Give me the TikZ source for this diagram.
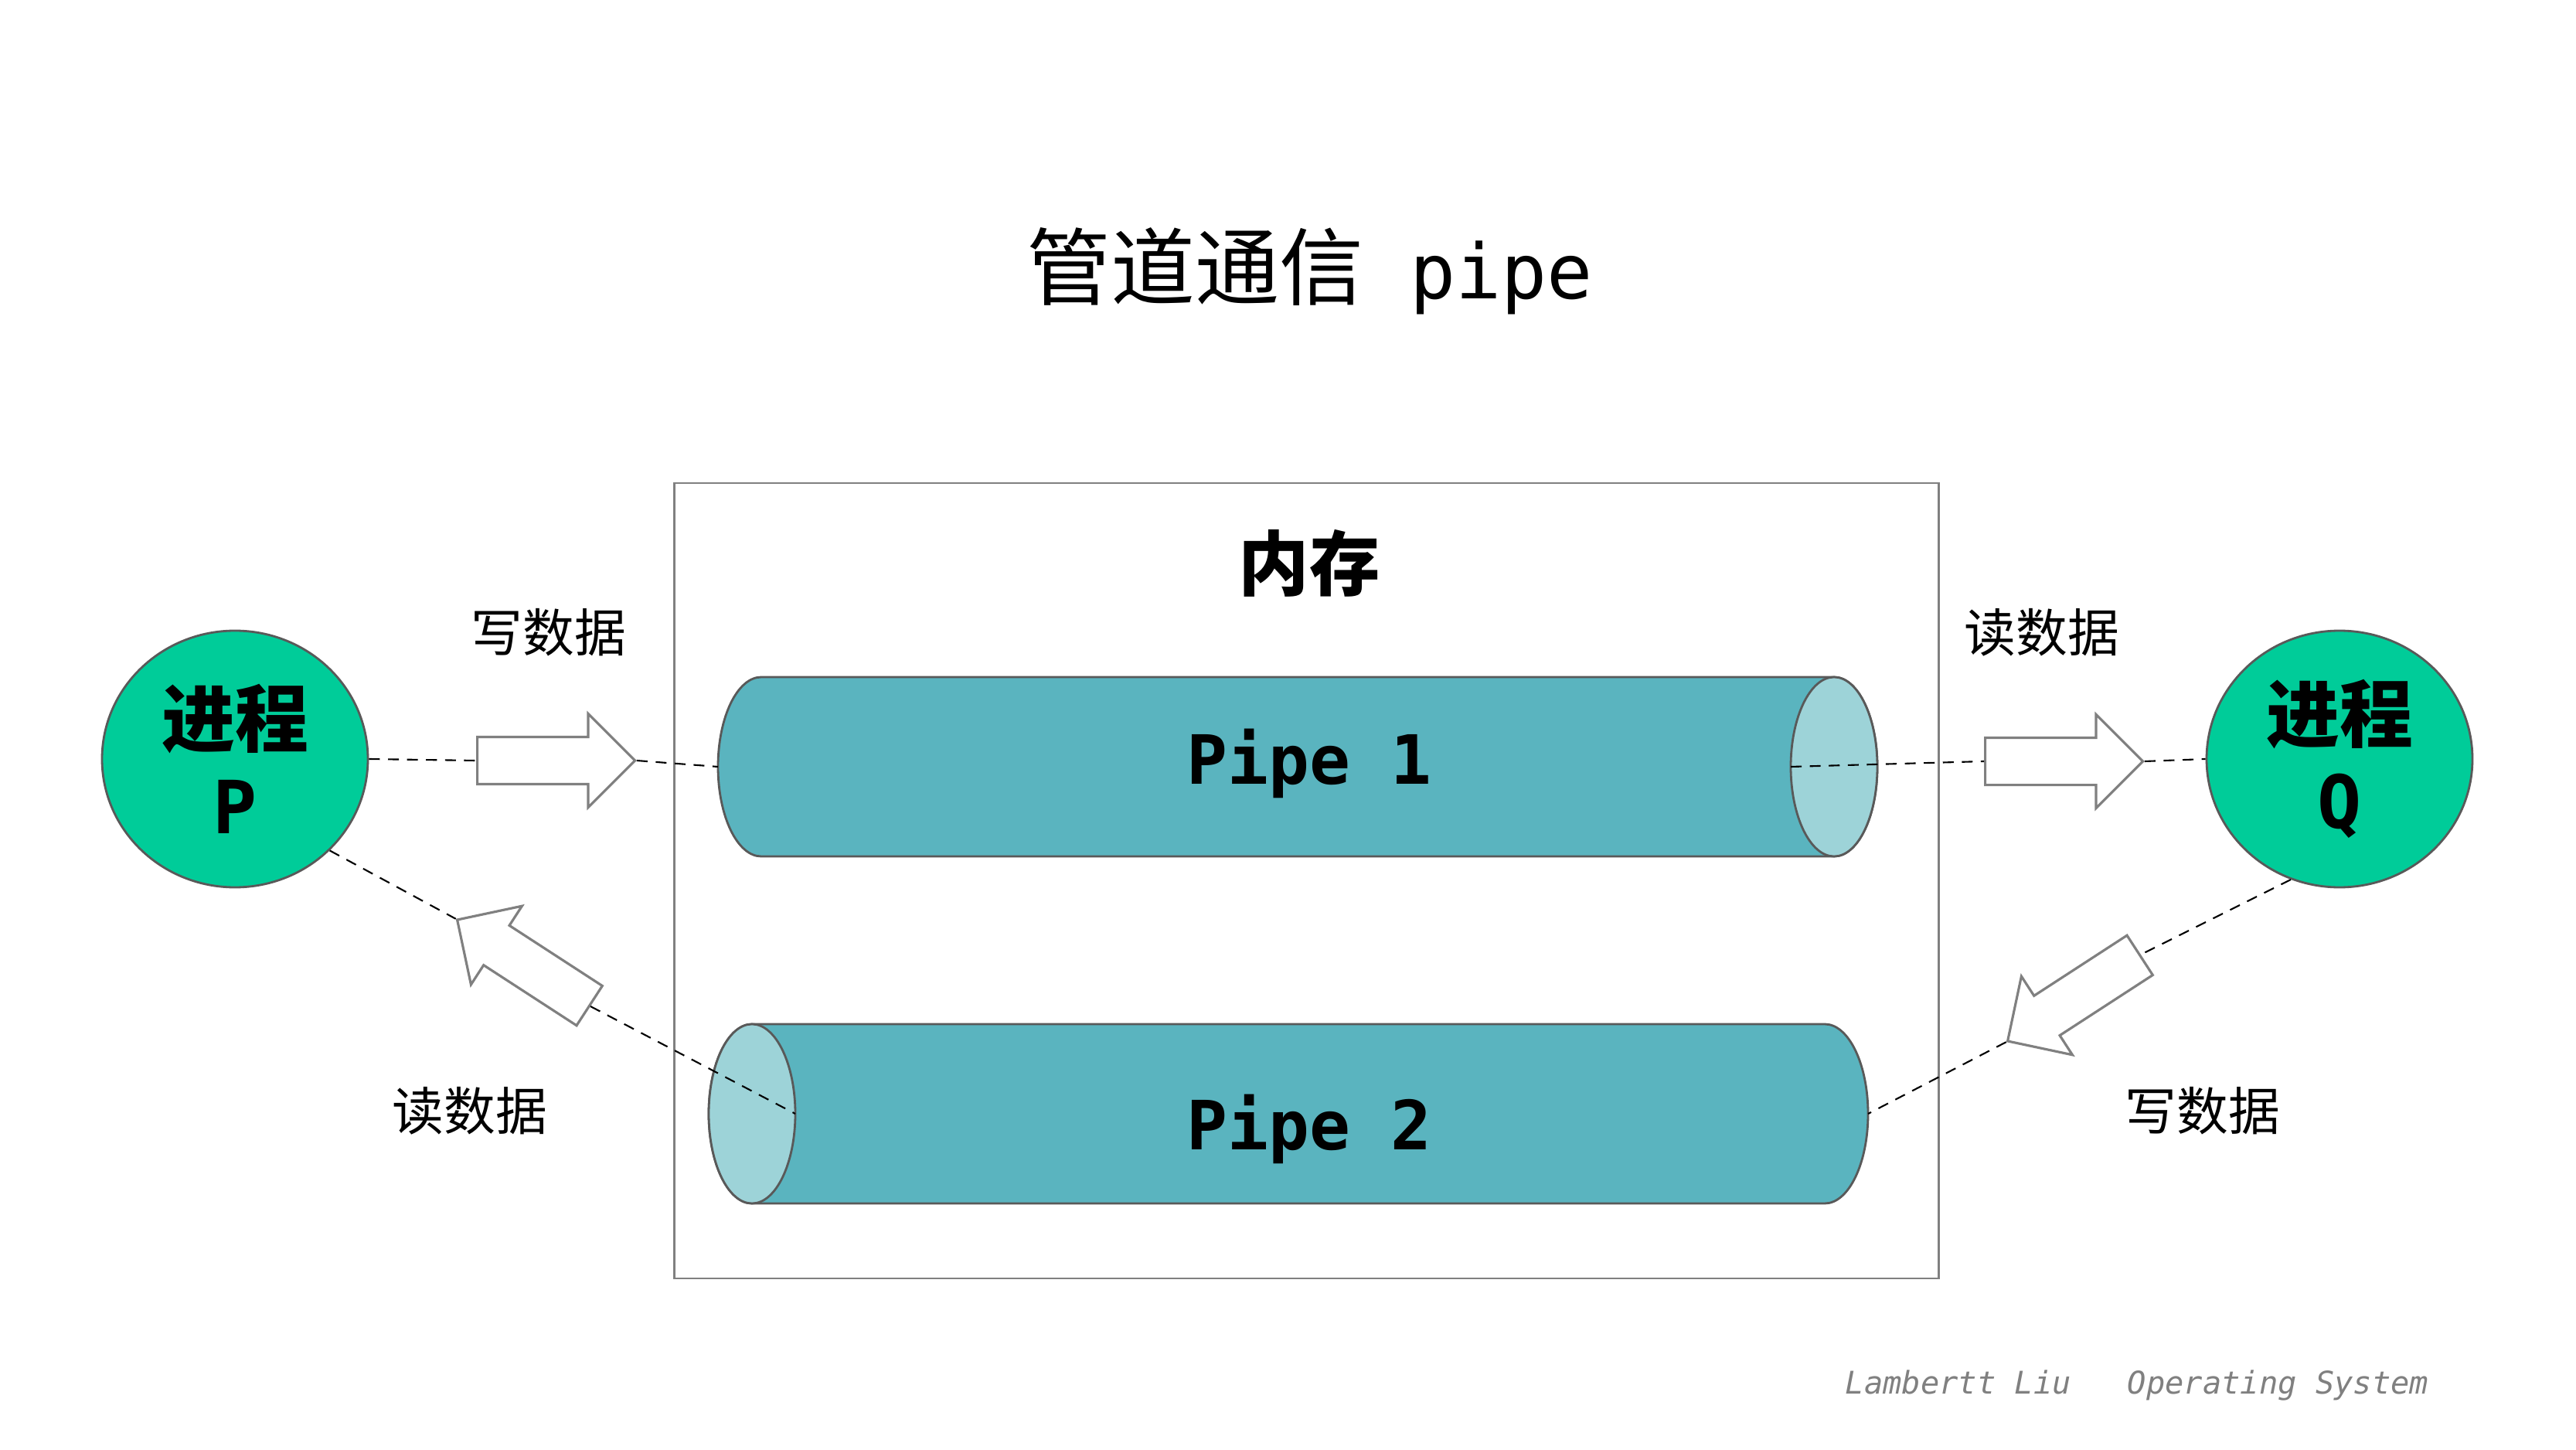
\documentclass[tikz,border=0pt]{standalone}
\usepackage{fontspec}
\setmonofont{DejaVu Sans Mono}
\newfontfamily\cjk{Noto Sans CJK SC}
\usetikzlibrary{shapes.geometric, shapes.arrows}
\definecolor{procgreen}{HTML}{00CC99}
\definecolor{pipeteal}{HTML}{5AB4BF}
\definecolor{pipeend}{HTML}{9DD3D8}
\definecolor{edgegray}{HTML}{595959}
\definecolor{boxgray}{HTML}{808080}
\tikzset{
  proc/.style={ellipse, draw=edgegray, line width=0.8pt, fill=procgreen,
    minimum width=3.44cm, minimum height=3.32cm, align=center,
    font=\bfseries\fontsize{27}{32}\selectfont},
  pipebody/.style={draw=edgegray, line width=0.8pt, fill=pipeteal},
  pipecap/.style={draw=edgegray, line width=0.8pt, fill=pipeend},
  blockarr/.style={single arrow, draw=boxgray, line width=0.9pt, fill=white,
    minimum height=2.04cm, inner xsep=0pt, inner ysep=0.29cm,
    single arrow head extend=0.30cm, anchor=tail},
  link/.style={dash pattern=on 4pt off 3pt, line width=0.6pt},
  lbl/.style={font=\cjk\fontsize{19}{23}\selectfont},
  pipelbl/.style={font=\ttfamily\bfseries\fontsize{25}{30}\selectfont}
}

\begin{document}
\begin{tikzpicture}
  \fill[white] (0,0) rectangle (33.33,18.75);
  \node[font=\fontsize{31}{37}\selectfont] (ttl) at (16.95,15.24) {{\cjk 管道通信}{\ttfamily\fontsize{28}{34}\selectfont\ pipe}};
  %
  \draw[boxgray, line width=0.85pt] (8.72,2.21) rectangle (25.08,12.50);
  \node[font=\cjk\bfseries\fontsize{26}{31}\selectfont] (mem) at (16.94,11.46) {内存};
  %
  \filldraw[pipebody] (9.85,9.99) -- (23.73,9.99) arc[start angle=90, end angle=-90, x radius=0.56, y radius=1.16]
    -- (9.85,7.67) arc[start angle=270, end angle=90, x radius=0.56, y radius=1.16] -- cycle;
  \filldraw[pipecap] (23.73,8.83) ellipse[x radius=0.56, y radius=1.16];
  \node[pipelbl] (pipe1) at (16.94,8.87) {Pipe 1};
  \coordinate (p1w) at (9.29,8.83);
  \coordinate (p1e) at (23.17,8.83);
  %
  \filldraw[pipebody] (9.73,5.50) -- (23.61,5.50) arc[start angle=90, end angle=-90, x radius=0.56, y radius=1.16]
    -- (9.73,3.18) arc[start angle=270, end angle=90, x radius=0.56, y radius=1.16] -- cycle;
  \filldraw[pipecap] (9.73,4.34) ellipse[x radius=0.56, y radius=1.16];
  \node[pipelbl] (pipe2) at (16.94,4.14) {Pipe 2};
  \coordinate (p2w) at (10.29,4.34);
  \coordinate (p2e) at (24.17,4.34);
  %
  \node[proc] (P) at (3.04,8.93) {{\cjk 进程}\\{\ttfamily P}};
  \node[proc] (Q) at (30.27,8.93) {{\cjk 进程}\\{\ttfamily Q}};
  %
  \node[blockarr] (w1) at (6.16,8.91) {};
  \node[blockarr] (r1) at (25.67,8.90) {};
  \node[blockarr, rotate=147] (r2) at (7.64,5.73) {};
  \node[blockarr, rotate=213] (w2) at (27.70,6.40) {};
  %
  \draw[link] (P.east) -- (w1.tail);
  \draw[link] (w1.tip) -- (p1w);
  \draw[link] (p1e) -- (r1.tail);
  \draw[link] (r1.tip) -- (Q.west);
  \draw[link] (P.-44) -- (r2.tip);
  \draw[link] (r2.tail) -- (p2w);
  \draw[link] (Q.248) -- (w2.tail);
  \draw[link] (w2.tip) -- (p2e);
  %
  \node[lbl] (wP) at (7.10,10.57) {写数据};
  \node[lbl] (rQ) at (26.42,10.57) {读数据};
  \node[lbl] (rP) at (6.08,4.38) {读数据};
  \node[lbl] (wQ) at (28.50,4.38) {写数据};
  %
  \node[font=\ttfamily\itshape\fontsize{11.5}{14}\selectfont, text=boxgray] (sig) at (27.65,0.83) {Lambertt Liu\ \ \ Operating System};
\end{tikzpicture}
\end{document}
